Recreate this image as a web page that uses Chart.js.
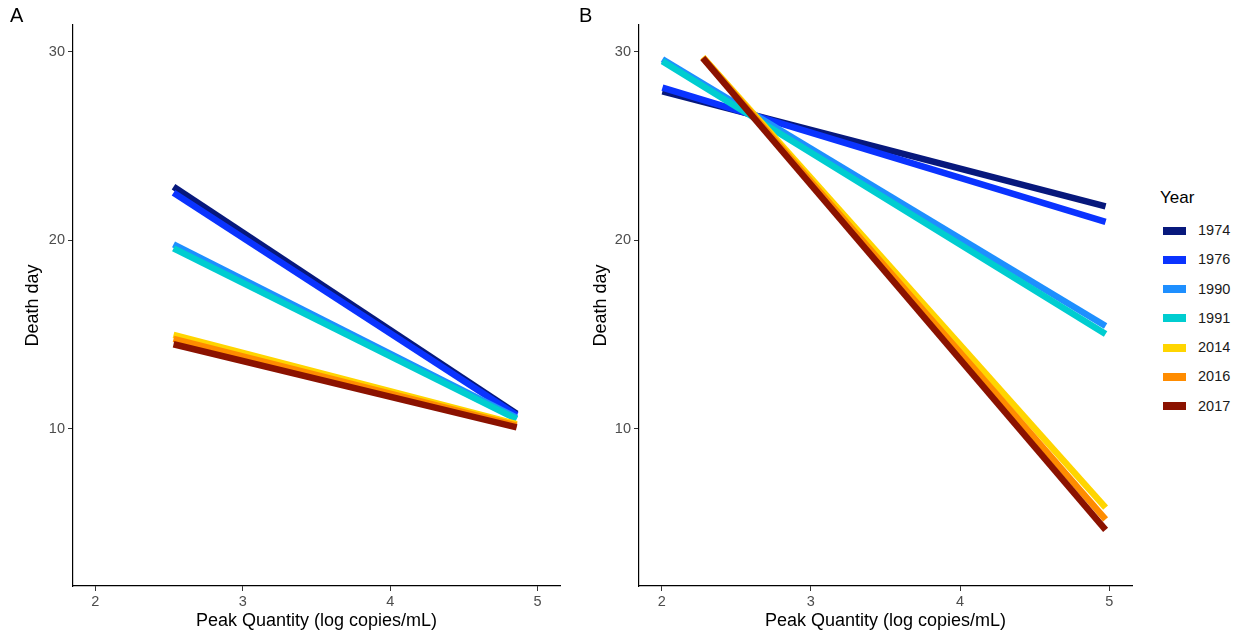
<!DOCTYPE html>
<html>
<head>
<meta charset="utf-8">
<script src="https://cdn.jsdelivr.net/npm/chart.js@4.4.1/dist/chart.umd.min.js"></script>
<style>
  body { margin: 0; background: #fff; font-family: "Liberation Sans", Arial, sans-serif; }
  #wrap { position: relative; width: 1242px; height: 636px; }
  canvas { position: absolute; top: 0; }
  .tag { position: absolute; font-size: 20px; color: #000; }
  #legend { position: absolute; left: 1160px; top: 188px; }
  #legend .title { font-size: 17px; color: #000; height: 28px; }
  #legend .item { position: relative; height: 29.3px; font-size: 14.5px; color: #1a1a1a; }
  #legend .box { position: absolute; left: 3px; top: 10.5px; width: 23px; height: 8px; }
  #legend .lbl { position: absolute; left: 38px; top: 6px; }
</style>
</head>
<body>
<div id="wrap">
  <canvas id="chartA" width="580" height="636" style="left:0"></canvas>
  <canvas id="chartB" width="560" height="636" style="left:580px"></canvas>
  <div class="tag" style="left:10px; top:4px">A</div>
  <div class="tag" style="left:579px; top:4px">B</div>
  <div id="legend"><div class="title">Year</div></div>
</div>
<script>
// series names and colours
const years = ['1974', '1976', '1990', '1991', '2014', '2016', '2017'];
const colors = ['#07187c', '#0a33ff', '#1e8fff', '#00cdd0', '#ffd500', '#ff8c00', '#8b1200'];

// panel A: fitted line ends
const xStartA = [2.53, 2.53, 2.53, 2.53, 2.53, 2.53, 2.53];
const xEndA = [4.858, 4.858, 4.858, 4.858, 4.858, 4.858, 4.858];
const yStartA = [22.84, 22.52, 19.79, 19.57, 14.99, 14.77, 14.49];
const yEndA = [10.8, 10.72, 10.6, 10.52, 10.25, 10.17, 10.08];

// panel B: fitted line ends
const xStartB = [2.005, 2.005, 2.005, 2.005, 2.276, 2.276, 2.276];
const xEndB = [4.975, 4.975, 4.975, 4.975, 4.975, 4.975, 4.975];
const yStartB = [27.9, 28.1, 29.6, 29.5, 29.72, 29.69, 29.66];
const yEndB = [21.8, 20.98, 15.46, 15.03, 5.83, 5.2, 4.65];

const xTicks = [2, 3, 4, 5];
const yTicks = [10, 20, 30];

function makeDatasets(xs, xe, ys, ye) {
  return years.map((yr, i) => ({
    label: yr,
    data: [{ x: xs[i], y: ys[i] }, { x: xe[i], y: ye[i] }],
    borderColor: colors[i],
    backgroundColor: colors[i],
    borderWidth: 6.5,
    borderCapStyle: 'butt',
    pointRadius: 0,
    tension: 0,
    order: years.length - i
  }));
}

function makeChart(id, datasets, yWidth, yTitlePad, rightPad) {
  const tickFont = { family: '"Liberation Sans", Arial, sans-serif', size: 14.5 };
  const titleFont = { family: '"Liberation Sans", Arial, sans-serif', size: 18 };
  return new Chart(document.getElementById(id), {
    type: 'line',
    data: { datasets },
    options: {
      responsive: false,
      animation: false,
      layout: { padding: { left: 0, top: 25, right: rightPad, bottom: 0 } },
      plugins: { legend: { display: false }, tooltip: { enabled: false } },
      scales: {
        x: {
          type: 'linear',
          min: 1.848,
          max: 5.152,
          afterBuildTicks: s => { s.ticks = xTicks.map(v => ({ value: v })); },
          afterFit: s => { s.height = 50; },
          grid: { drawOnChartArea: false, tickLength: 5, tickColor: '#333', tickWidth: 1 },
          border: { color: '#000', width: 1.2 },
          ticks: { color: '#4d4d4d', font: tickFont, padding: 2, maxRotation: 0 },
          title: { display: true, text: 'Peak Quantity (log copies/mL)', color: '#000', font: titleFont, padding: { top: 0, bottom: 4 } }
        },
        y: {
          min: 1.67,
          max: 31.42,
          afterBuildTicks: s => { s.ticks = yTicks.map(v => ({ value: v })); },
          afterFit: s => { s.width = yWidth; },
          grid: { drawOnChartArea: false, tickLength: 5, tickColor: '#333', tickWidth: 1 },
          border: { color: '#000', width: 1.2 },
          ticks: { color: '#4d4d4d', font: tickFont, padding: 3 },
          title: { display: true, text: 'Death day', color: '#000', font: titleFont, padding: { top: yTitlePad, bottom: 0 } }
        }
      }
    }
  });
}

makeChart('chartA', makeDatasets(xStartA, xEndA, yStartA, yEndA), 73, 22, 20);
makeChart('chartB', makeDatasets(xStartB, xEndB, yStartB, yEndB), 59, 10, 8);

// legend keys
const legend = document.getElementById('legend');
years.forEach((yr, i) => {
  const item = document.createElement('div');
  item.className = 'item';
  item.innerHTML = `<div class="box" style="background:${colors[i]}"></div><div class="lbl">${yr}</div>`;
  legend.appendChild(item);
});
</script>
</body>
</html>
